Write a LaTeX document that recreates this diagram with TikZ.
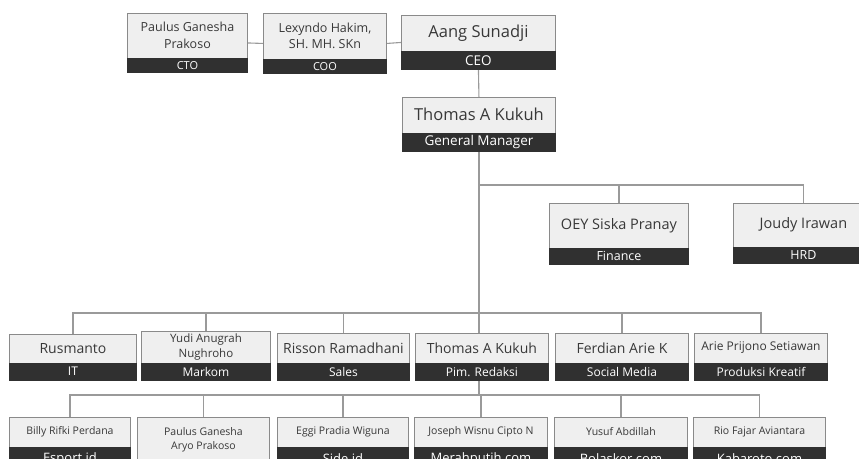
\documentclass[tikz,border=0pt]{standalone}
\usepackage{fontspec}
\setmainfont{Open Sans}
\usetikzlibrary{calc}
\pgfdeclarelayer{background}
\pgfsetlayers{background,main}
\definecolor{boxfill}{HTML}{EFEFEF}
\definecolor{boxline}{HTML}{8A8A8A}
\definecolor{banddark}{HTML}{303030}
\definecolor{wirecol}{HTML}{9A9A9A}
\definecolor{nametext}{HTML}{383838}
\tikzset{
  box/.style={draw=boxline, fill=boxfill, line width=0.9pt, inner sep=0pt, anchor=north west},
  band/.style={fill=banddark, inner sep=0pt, anchor=south, text=white},
  lbl/.style={text=nametext, align=center, inner sep=0pt},
  wire/.style={draw=wirecol, line width=1.1pt}
}
\newcommand\fs[1]{\fontsize{#1pt}{\dimexpr #1pt*4/3\relax}\selectfont}
\newcommand\orgbox[9]{%
  \node[box, minimum width=#4pt, minimum height=#5pt] (#1) at (#2,#3) {};
  \node[band, minimum width=#4pt+0.9pt, minimum height=#6pt] (#1b) at (#1.south) {#9};
  \node[lbl, font=\fs{#7}] (#1n) at ($(#1.north)!0.5!(#1b.north)$) {#8};
}
\begin{document}
\begin{tikzpicture}[x=1pt,y=-1pt]
\useasboundingbox (0,0) rectangle (859,458);
% top row
\orgbox{cto}{127}{13}{120}{59}{15}{12.5}{Paulus Ganesha\\Prakoso}{\fs{11}CTO}
\orgbox{coo}{263}{13}{123}{60}{15}{12.5}{Lexyndo Hakim,\\SH. MH. SKn}{\fs{11}COO}
\orgbox{ceo}{401}{15}{154}{54}{19}{16.5}{Aang Sunadji}{\fs{13.5}CEO}
\orgbox{gm}{402}{97}{153}{54}{19}{16.5}{Thomas A Kukuh}{\fs{13.5}General Manager}
% level 2
\orgbox{fin}{549}{203}{139}{61}{17}{14.5}{OEY Siska Pranay}{\fs{12.5}Finance}
\orgbox{hrd}{733}{203}{140}{60}{17}{14.5}{Joudy Irawan}{\fs{12.5}HRD}
% level 3
\orgbox{rus}{9}{334}{127}{46}{18}{14}{Rusmanto}{\fs{12}IT}
\orgbox{mar}{141}{331}{129}{49}{18}{11.5}{Yudi Anugrah\\Nughroho}{\fs{12}Markom}
\orgbox{sal}{277}{333}{132}{47}{18}{14}{Risson Ramadhani}{\fs{12}Sales}
\orgbox{pim}{415}{333}{133}{47}{18}{14}{Thomas A Kukuh}{\fs{12}Pim. Redaksi}
\orgbox{soc}{555}{333}{133}{47}{18}{14}{Ferdian Arie K}{\fs{12}Social Media}
\orgbox{pro}{694}{333}{133}{47}{18}{12}{Arie Prijono Setiawan}{\fs{12}Produksi Kreatif}
% level 4
\orgbox{bil}{9}{417}{121}{53}{24}{10.5}{Billy Rifki Perdana}{\fs{13}Esport.id}
\orgbox{pau}{137}{417}{132}{63}{17}{10.5}{Paulus Ganesha\\Aryo Prakoso}{}
\orgbox{egg}{277}{417}{131}{53}{24}{10.5}{Eggi Pradia Wiguna}{\fs{13}Side.id}
\orgbox{jos}{414}{417}{133}{53}{24}{10.5}{Joseph Wisnu Cipto N}{\fs{13}Merahputih.com}
\orgbox{yus}{554}{417}{133}{53}{24}{10.5}{Yusuf Abdillah}{\fs{13}Bolaskor.com}
\orgbox{rio}{693}{417}{132}{53}{24}{10.5}{Rio Fajar Aviantara}{\fs{13}Kabaroto.com}
% connectors
\begin{pgfonlayer}{background}
\coordinate (bus2) at (gm.south |- 0,185);
\coordinate (bus3) at (gm.south |- 0,313);
\coordinate (top4) at (gm.south |- pim.south);
\coordinate (bus4) at (gm.south |- 0,395);
\draw[wire] (cto.east) -- (coo.west);
\draw[wire] (coo.east) -- (ceo.west);
\draw[wire] (ceo.south) -- (gm.north);
\draw[wire] (gm.south) -- (gm.south |- pim.north);
\draw[wire] (bus2) -| (fin.north);
\draw[wire] (bus2) -| (hrd.north);
\draw[wire] (bus3) -| (rus.north);
\draw[wire] (bus3) -| (mar.north);
\draw[wire] (bus3) -| (sal.north);
\draw[wire] (bus3) -| (soc.north);
\draw[wire] (bus3) -| (pro.north);
\draw[wire] (top4) -- (bus4);
\draw[wire] (bus4) -| (bil.north);
\draw[wire] (bus4) -| (pau.north);
\draw[wire] (bus4) -| (egg.north);
\draw[wire] (bus4) -| (jos.north);
\draw[wire] (bus4) -| (yus.north);
\draw[wire] (bus4) -| (rio.north);
\end{pgfonlayer}
\end{tikzpicture}
\end{document}
